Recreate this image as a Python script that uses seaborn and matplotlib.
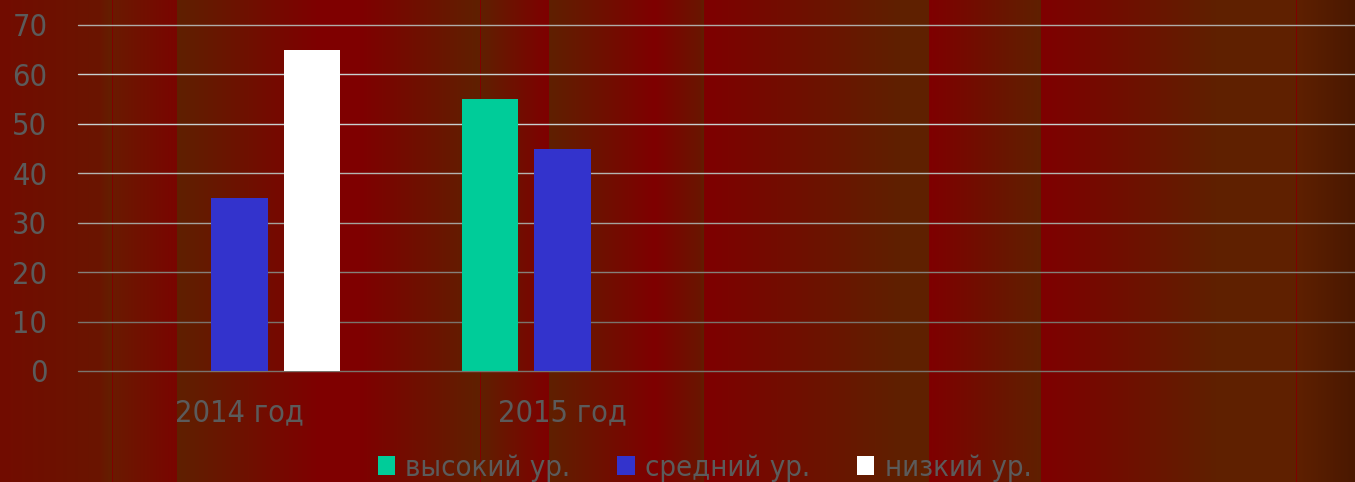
import numpy as np
import pandas as pd
import matplotlib
matplotlib.use("Agg")
import matplotlib.pyplot as plt
import seaborn as sns
from matplotlib.colors import to_rgb
from matplotlib.patches import Patch

# ---- data ----
categories = ["2014 год", "2015 год", "", " "]
series = ["высокий ур.", "средний ур.", "низкий ур."]
high = [0, 55, np.nan, np.nan]
mid = [35, 45, np.nan, np.nan]
low = [65, 0, np.nan, np.nan]
yticks = [0, 10, 20, 30, 40, 50, 60, 70]

colors = ["#00cc99", "#3333cc", "#ffffff"]

rows = []
for s, vals in zip(series, [high, mid, low]):
    for c, v in zip(categories, vals):
        rows.append({"cat": c, "series": s, "value": v})
df = pd.DataFrame(rows)

sns.set_theme(style="white")
plt.rcParams["font.family"] = ["DejaVu Sans"]
plt.rcParams["font.stretch"] = "condensed"

W, H = 1355, 482
fig = plt.figure(figsize=(W / 100, H / 100), dpi=100)

# ---- decorative striped background ----
R = "#7f0000"
B = "#5f2000"
stops = [
    (0, "#720c00"), (100, "#6a1500"), (112, "#632000"), (113, "#6a1a00"), (177, "#7a0500"),
    (177, B), (320, R), (360, R), (480, B), (549, R), (549, B),
    (655, R), (700, "#6a1500"), (704, B), (704, R), (900, B), (929, B),
    (929, R), (1041, B), (1041, R), (1216, B), (1296, B), (1355, "#4a1800"),
]
xs = np.arange(W) + 0.5
img = np.zeros((1, W, 3))
sx = np.array([s[0] for s in stops], float)
sc = np.array([to_rgb(s[1]) for s in stops])
for ch in range(3):
    vals = np.empty(W)
    for i, x in enumerate(xs):
        idx = np.searchsorted(sx, x, side="right")
        if idx <= 0:
            vals[i] = sc[0, ch]
        elif idx >= len(sx):
            vals[i] = sc[-1, ch]
        else:
            x0, x1 = sx[idx - 1], sx[idx]
            c0, c1 = sc[idx - 1, ch], sc[idx, ch]
            t = 0 if x1 == x0 else (x - x0) / (x1 - x0)
            vals[i] = c0 + t * (c1 - c0)
    img[0, :, ch] = vals
for lx in (112, 480, 1296):
    img[0, lx, :] = to_rgb("#800000")
bg = fig.add_axes([0, 0, 1, 1], zorder=0)
bg.imshow(img, aspect="auto", extent=[0, 1, 0, 1])
bg.axis("off")

# ---- chart ----
left = 78 / W
axw = 1292 / W
top = 25 / H
bottom = 371 / H
ax = fig.add_axes([left, 1 - bottom, axw, bottom - top], zorder=1)
ax.patch.set_alpha(0)

sns.barplot(data=df, x="cat", y="value", hue="series", order=categories,
            hue_order=series, palette=colors, width=0.671, gap=0.222,
            linewidth=0, edgecolor="none", saturation=1, errorbar=None,
            legend=False, ax=ax)

ax.set_ylim(0, 70)
ax.set_xlim(-0.5, len(categories) - 0.5)
ax.set_yticks(yticks)
ax.set_xlabel("")
ax.set_ylabel("")
for sp in ax.spines.values():
    sp.set_visible(False)

grid_cols = ["#7a746c", "#7a746c", "#85807a", "#a4a29c", "#b4b4b0", "#c8d0d0", "#c8d0d0", "#b0aca8"]
for yv, gc in zip(yticks, grid_cols):
    ax.axhline(yv, color=gc, lw=1.0, zorder=0.5, clip_on=False)

ax.tick_params(axis="y", length=0, pad=22, labelsize=22, labelcolor="#5b5b5b")
ax.tick_params(axis="x", length=0, pad=19.5, labelsize=22, labelcolor="#5b5b5b")

handles = [Patch(facecolor=c, edgecolor="none", label=s) for c, s in zip(colors, series)]
fig.legend(handles=handles, loc="center", bbox_to_anchor=(0.52, 0.029), ncol=3,
           frameon=False, fontsize=21, labelcolor="#5b5b5b", handlelength=0.6,
           handleheight=0.6, handletextpad=0.35, columnspacing=1.6, borderaxespad=0)

fig.savefig("out.png", dpi=100)
